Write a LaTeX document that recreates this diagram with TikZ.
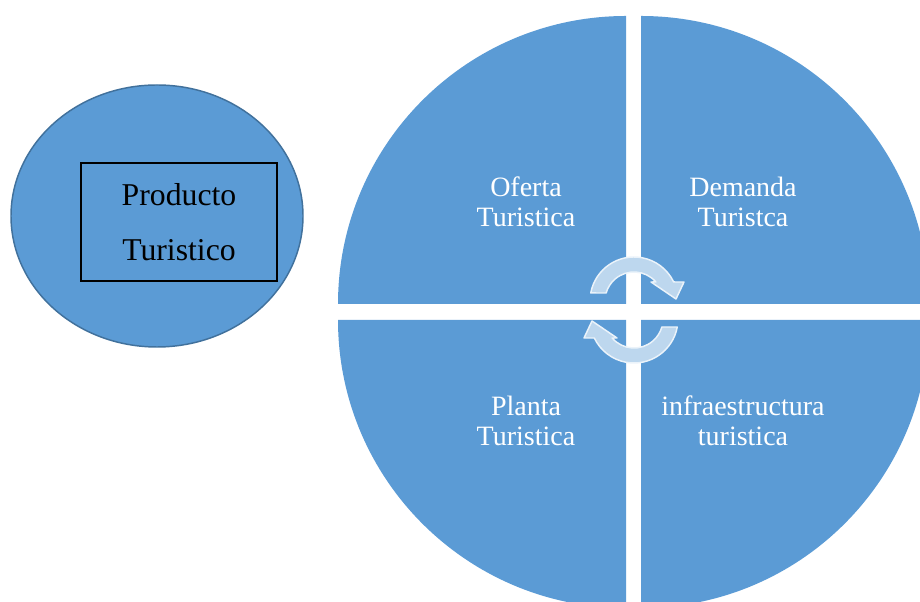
\documentclass[tikz,border=0pt]{standalone}
\usepackage{fontspec}
\setmainfont{Liberation Serif}
\usepackage{tikz}

\definecolor{qblue}{HTML}{5B9BD5}
\definecolor{qedge}{HTML}{41719C}

\begin{document}
\begin{tikzpicture}[x=0.75pt,y=0.75pt,
	quad/.style={fill=qblue},
	qlabel/.style={text=white,align=center,font=\fontsize{21}{22.5}\selectfont},
	cyc/.style={fill=qblue!40!white,draw=qblue!12!white,line width=1.1pt,line join=round}]
			\clip (0,0) rectangle (920,602);

			\draw[fill=qblue,draw=qedge,line width=1.1pt] (157,386) ellipse [x radius=146,y radius=131];
			\node[draw=black,line width=1pt,minimum width=147pt,minimum height=88.5pt,inner sep=0pt,
				align=center,font=\fontsize{23.8}{41.25}\selectfont] (prod) at (179,380) {Producto\\Turistico};

			\fill[quad] (626,298) -- (338,298) arc[start angle=180,end angle=90,radius=288] -- cycle;
			\fill[quad] (641,298) -- (641,586) arc[start angle=90,end angle=0,radius=288] -- cycle;
			\fill[quad] (626,282) -- (338,282) arc[start angle=180,end angle=270,radius=288] -- cycle;
			\fill[quad] (641,282) -- (929,282) arc[start angle=0,end angle=-90,radius=288] -- cycle;

			\node[qlabel] (oferta) at (526,400) {Oferta\\Turistica};
			\node[qlabel] (demanda) at (743,400) {Demanda\\Turistca};
			\node[qlabel] (planta) at (526,181.5) {Planta\\Turistica};
			\node[qlabel] (infra) at (743,181.5) {infraestructura\\turistica};

			\begin{scope}[shift={(634,301)}]
				\filldraw[cyc] (169.5:44) arc[start angle=169.5,end angle=25.6,radius=44] -- (50,19) -- (42,2) -- (17,19) -- (41:29) arc[start angle=41,end angle=164,radius=29] -- cycle;
			\end{scope}
			\begin{scope}[shift={(634,283)},rotate=180]
				\filldraw[cyc] (169.5:44) arc[start angle=169.5,end angle=25.6,radius=44] -- (50,19) -- (42,2) -- (17,19) -- (41:29) arc[start angle=41,end angle=164,radius=29] -- cycle;
			\end{scope}
		\end{tikzpicture}
\end{document}
